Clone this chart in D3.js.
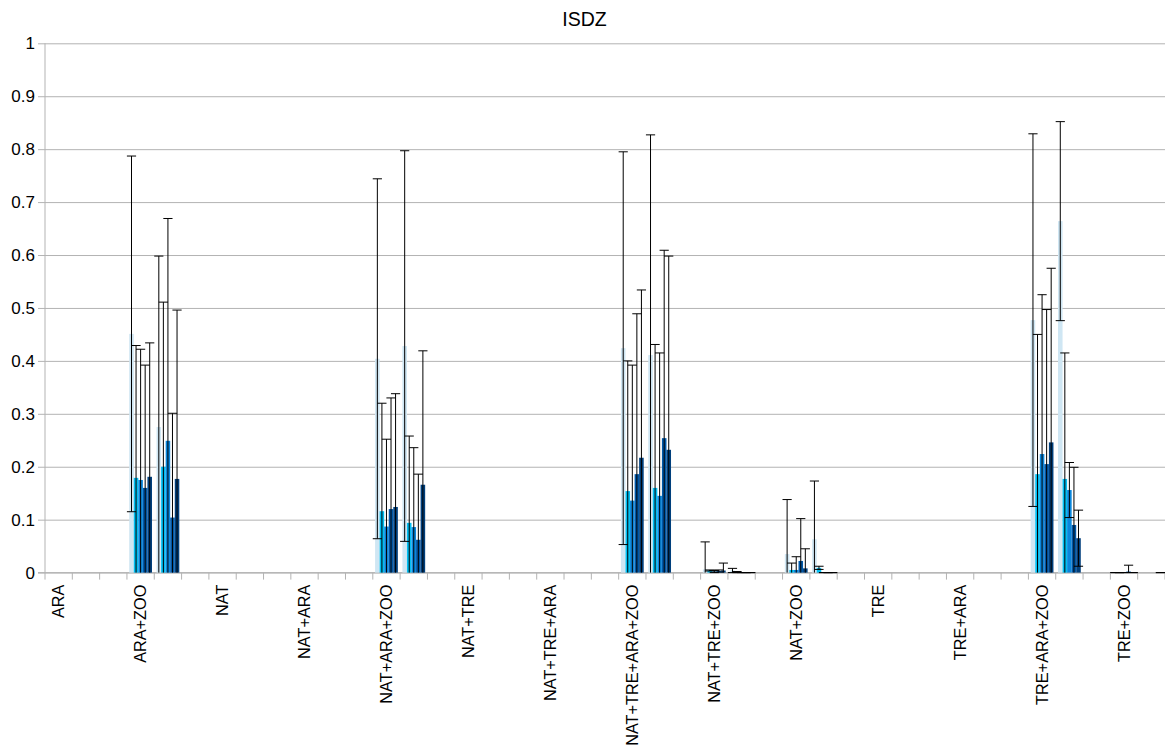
<!DOCTYPE html>
<html>
<head>
<meta charset="utf-8">
<script src="https://cdn.jsdelivr.net/npm/d3@7"></script>
<style>
  html, body { margin: 0; padding: 0; background: #ffffff; }
  svg { display: block; font-family: "Liberation Sans", Arial, sans-serif; }
</style>
</head>
<body>
<svg id="chart" width="1165" height="749"></svg>
<script>
// Category rows: each treatment has two data rows and one blank spacer row
const categories = [
  "ARA", "", "",
  "ARA+ZOO", "", "",
  "NAT", "", "",
  "NAT+ARA", "", "",
  "NAT+ARA+ZOO", "", "",
  "NAT+TRE", "", "",
  "NAT+TRE+ARA", "", "",
  "NAT+TRE+ARA+ZOO", "", "",
  "NAT+TRE+ZOO", "", "",
  "NAT+ZOO", "", "",
  "TRE", "", "",
  "TRE+ARA", "", "",
  "TRE+ARA+ZOO", "", "",
  "TRE+ZOO", ""
];

const _ = null;

// Means per series (41 rows each)
const series1 = [_,_,_, 0.451,0.275,_, _,_,_, _,_,_, 0.404,0.428,_, _,_,_, _,_,_, 0.424,0.411,_, 0.006,0.004,_, 0.035,0.063,_, _,_,_, _,_,_, 0.477,0.664,_, 0,_];
const series2 = [_,_,_, 0.179,0.200,_, _,_,_, _,_,_, 0.116,0.094,_, _,_,_, _,_,_, 0.154,0.160,_, 0.004,0.001,_, 0.005,0.009,_, _,_,_, _,_,_, 0.186,0.177,_, 0,_];
const series3 = [_,_,_, 0.175,0.249,_, _,_,_, _,_,_, 0.087,0.086,_, _,_,_, _,_,_, 0.136,0.145,_, 0.002,0,_, 0.005,0,_, _,_,_, _,_,_, 0.224,0.156,_, 0,_];
const series4 = [_,_,_, 0.160,0.104,_, _,_,_, _,_,_, 0.120,0.062,_, _,_,_, _,_,_, 0.186,0.254,_, 0.003,0,_, 0.022,0,_, _,_,_, _,_,_, 0.205,0.090,_, 0.002,_];
const series5 = [_,_,_, 0.181,0.177,_, _,_,_, _,_,_, 0.124,0.166,_, _,_,_, _,_,_, 0.217,0.232,_, 0.004,0,_, 0.008,0,_, _,_,_, _,_,_, 0.246,0.065,_, 0,0];

// Error amounts (symmetric) per series
const error1 = [_,_,_, 0.336,0.323,_, _,_,_, _,_,_, 0.340,0.369,_, _,_,_, _,_,_, 0.371,0.416,_, 0.052,0.004,_, 0.103,0.110,_, _,_,_, _,_,_, 0.352,0.188,_, 0,_];
const error2 = [_,_,_, 0.250,0.311,_, _,_,_, _,_,_, 0.204,0.164,_, _,_,_, _,_,_, 0.246,0.271,_, 0.001,0.001,_, 0.013,0.003,_, _,_,_, _,_,_, 0.264,0.238,_, 0,_];
const error3 = [_,_,_, 0.247,0.420,_, _,_,_, _,_,_, 0.165,0.150,_, _,_,_, _,_,_, 0.256,0.270,_, 0.002,0,_, 0.025,0,_, _,_,_, _,_,_, 0.301,0.052,_, 0,_];
const error4 = [_,_,_, 0.232,0.197,_, _,_,_, _,_,_, 0.210,0.124,_, _,_,_, _,_,_, 0.303,0.355,_, 0.002,0,_, 0.080,0,_, _,_,_, _,_,_, 0.292,0.109,_, 0.012,_];
const error5 = [_,_,_, 0.253,0.319,_, _,_,_, _,_,_, 0.214,0.253,_, _,_,_, _,_,_, 0.317,0.366,_, 0.014,0,_, 0.037,0,_, _,_,_, _,_,_, 0.329,0.053,_, 0,0];

const seriesValues = [series1, series2, series3, series4, series5];
const seriesErrors = [error1, error2, error3, error4, error5];
const seriesColors = ["#cfe6f3", "#00bff3", "#0a86dc", "#0058a8", "#003f7c"];

const yTicks = [0, 0.1, 0.2, 0.3, 0.4, 0.5, 0.6, 0.7, 0.8, 0.9, 1];
const title = "ISDZ";

const svg = d3.select("#chart");
const W = 1165, H = 749;
const margin = { left: 45, right: 0, top: 43.3, bottom: 176.4 };
const plotW = W - margin.left - margin.right;
const plotH = H - margin.top - margin.bottom;

svg.append("rect").attr("width", W).attr("height", H).attr("fill", "#ffffff");

const x = d3.scaleBand()
  .domain(d3.range(categories.length))
  .range([margin.left, margin.left + plotW])
  .paddingInner(0).paddingOuter(0);

const xs = d3.scaleBand()
  .domain(d3.range(seriesValues.length))
  .range([0, x.bandwidth()])
  .paddingInner(0).paddingOuter(0.5);

const y = d3.scaleLinear().domain([0, 1]).range([margin.top + plotH, margin.top]);

const gridColor = "#b3b3b3";

// Horizontal gridlines with outward tick marks
const yAxis = d3.axisLeft(y).tickValues(yTicks)
  .tickSize(-plotW).tickSizeOuter(0)
  .tickFormat(d => d3.format("~g")(d));
const gy = svg.append("g").attr("transform", `translate(${margin.left},0)`).call(yAxis);
gy.selectAll(".tick line").attr("stroke", gridColor).attr("x1", -7).attr("x2", plotW);
gy.select(".domain").remove();
gy.selectAll(".tick text")
  .attr("x", -10)
  .attr("font-size", 17)
  .attr("fill", "#000")
  .attr("font-family", "'Liberation Sans', Arial, sans-serif");

// Vertical axis line
svg.append("line")
  .attr("x1", margin.left).attr("x2", margin.left)
  .attr("y1", y(1)).attr("y2", y(0))
  .attr("stroke", gridColor);

// Category axis with ticks at row boundaries
const xAxis = svg.append("g");
const boundaries = d3.range(categories.length + 1).map(i => margin.left + i * x.step());
xAxis.selectAll("line.tick")
  .data(boundaries)
  .join("line")
  .attr("x1", d => d).attr("x2", d => d)
  .attr("y1", y(0)).attr("y2", y(0) + 7)
  .attr("stroke", gridColor);
xAxis.append("line")
  .attr("x1", margin.left - 7).attr("x2", margin.left + plotW)
  .attr("y1", y(0)).attr("y2", y(0))
  .attr("stroke", gridColor);

xAxis.selectAll("text")
  .data(categories.map((c, i) => ({ c, i })).filter(d => d.c !== ""))
  .join("text")
  .attr("transform", d => `translate(${x(d.i) + x.bandwidth() / 2},${y(0) + 12}) rotate(-90)`)
  .attr("text-anchor", "end")
  .attr("dy", "0.35em")
  .attr("font-size", 16.3)
  .attr("fill", "#000")
  .text(d => d.c);

// Bars
const barLayer = svg.append("g");
seriesValues.forEach((vals, s) => {
  barLayer.selectAll(null)
    .data(vals.map((v, i) => ({ v, i })).filter(d => d.v !== null && d.v > 0))
    .join("rect")
    .attr("x", d => x(d.i) + xs(s))
    .attr("width", xs.bandwidth())
    .attr("y", d => y(d.v))
    .attr("height", d => y(0) - y(d.v))
    .attr("fill", seriesColors[s]);
});

// Error bars
const errLayer = svg.append("g").attr("stroke", "#000").attr("stroke-width", 1).attr("fill", "none");
const capHalf = 4.6;
seriesValues.forEach((vals, s) => {
  vals.forEach((v, i) => {
    const e = seriesErrors[s][i];
    if (v === null || e === null) return;
    const cx = x(i) + xs(s) + xs.bandwidth() / 2;
    const hi = Math.min(1, v + e);
    const lo = v - e;
    const loClamped = Math.max(0, lo);
    errLayer.append("line")
      .attr("x1", cx).attr("x2", cx)
      .attr("y1", y(hi)).attr("y2", y(loClamped));
    errLayer.append("line")
      .attr("x1", cx - capHalf).attr("x2", cx + capHalf)
      .attr("y1", y(hi)).attr("y2", y(hi));
    if (lo >= -1e-9) {
      errLayer.append("line")
        .attr("x1", cx - capHalf).attr("x2", cx + capHalf)
        .attr("y1", y(loClamped)).attr("y2", y(loClamped));
    }
  });
});

// Title
svg.append("text")
  .attr("x", W / 2 + 2)
  .attr("y", 26)
  .attr("text-anchor", "middle")
  .attr("font-size", 19.5)
  .attr("fill", "#000")
  .text(title);
</script>
</body>
</html>
